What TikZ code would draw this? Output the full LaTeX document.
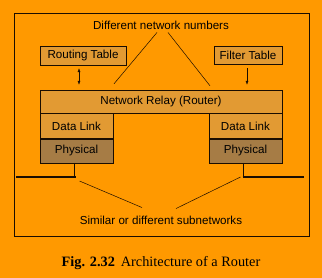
\documentclass[tikz,border=0pt]{standalone}
\usepackage{fontspec}
\setmainfont{Liberation Sans}
\newfontfamily\capfont{Liberation Serif}
\usepackage{xcolor}
\usetikzlibrary{arrows.meta}
\definecolor{bgorange}{HTML}{FF9900}
\definecolor{boxtan}{HTML}{E29A33}
\definecolor{physbrown}{HTML}{A67C45}
\definecolor{inkdark}{HTML}{1A0D00}

\begin{document}
\begin{tikzpicture}[x=1pt, y=-1pt,
  lay/.style={draw=inkdark, fill=boxtan, inner sep=0pt, font=\fontsize{11.6}{13}\selectfont},
  phys/.style={lay, fill=physbrown},
  lbl/.style={inner sep=0pt, font=\fontsize{11.6}{13}\selectfont},
  wire/.style={draw=inkdark, line width=0.5pt},
  net/.style={draw=inkdark, line width=1.8pt},
  tip/.style={-{Latex[length=4pt,width=3pt]}},
  tips/.style={{Latex[length=4pt,width=3pt]}-{Latex[length=4pt,width=3pt]}}]
% background and frame
\fill[bgorange] (0,0) rectangle (322,278);
\useasboundingbox (0,0) rectangle (322,278);
\draw[wire] (14,13) rectangle (309,236);
% tables
\node[lay, minimum width=86pt, minimum height=19pt] (rt) at (83,55.5) {Routing Table};
\node[lay, minimum width=68pt, minimum height=18pt] (ft) at (248,55) {Filter Table};
% router layers
\node[lay, minimum width=242pt, minimum height=23pt] (relay) at (161,101.5) {Network Relay (Router)};
\node[lay, minimum width=73pt, minimum height=25pt, anchor=north west] (dll) at (relay.south west) {Data Link};
\node[phys, minimum width=73pt, minimum height=24pt, anchor=north] (phl) at (dll.south) {Physical};
\node[lay, minimum width=73pt, minimum height=25pt, anchor=north east] (dlr) at (relay.south east) {Data Link};
\node[phys, minimum width=73pt, minimum height=24pt, anchor=north] (phr) at (dlr.south) {Physical};
% labels
\node[lbl] (dnn) at (161,25) {Different network numbers};
\node[lbl] (sub) at (161,220) {Similar or different subnetworks};
\node[inner sep=0pt, font=\capfont\fontsize{14.3}{16}\selectfont] (cap) at (161,263) {\textbf{Fig. 2.32}\, Architecture of a Router};
% table arrows
\draw[wire, tips, shorten <=3pt, shorten >=5pt] ([xshift=-4pt]rt.south) -- ([xshift=-4pt]rt.south |- relay.north);
\draw[wire, tip, shorten <=4pt, shorten >=5pt] ([xshift=-1pt]ft.south) -- ([xshift=-1pt]ft.south |- relay.north);
% network attachments
\coordinate (netl) at (16,177);
\coordinate (netr) at (304,177);
\draw[wire] ([xshift=-2.5pt]phl.south) -- ([xshift=-2.5pt]phl.south |- netl);
\draw[net] (netl) -- ([xshift=-0.5pt]phl.south |- netl);
\draw[wire] ([xshift=-2.5pt]phr.south) -- ([xshift=-2.5pt]phr.south |- netr);
\draw[net] ([xshift=-3pt]phr.south |- netr) -- (netr);
% pointer lines
\draw[wire] ([xshift=-4pt,yshift=-3pt]dnn.south) -- ([xshift=-47pt,yshift=6pt]relay.north);
\draw[wire] ([xshift=7pt,yshift=-3pt]dnn.south) -- ([xshift=49pt,yshift=4pt]relay.north);
\draw[wire] ([xshift=-19pt,yshift=8pt]sub.north) -- ([xshift=3pt,yshift=-4pt]phl.south |- netl);
\draw[wire] ([xshift=15pt,yshift=7pt]sub.north) -- ([xshift=-5pt]phr.south |- netr);
\end{tikzpicture}
\end{document}
